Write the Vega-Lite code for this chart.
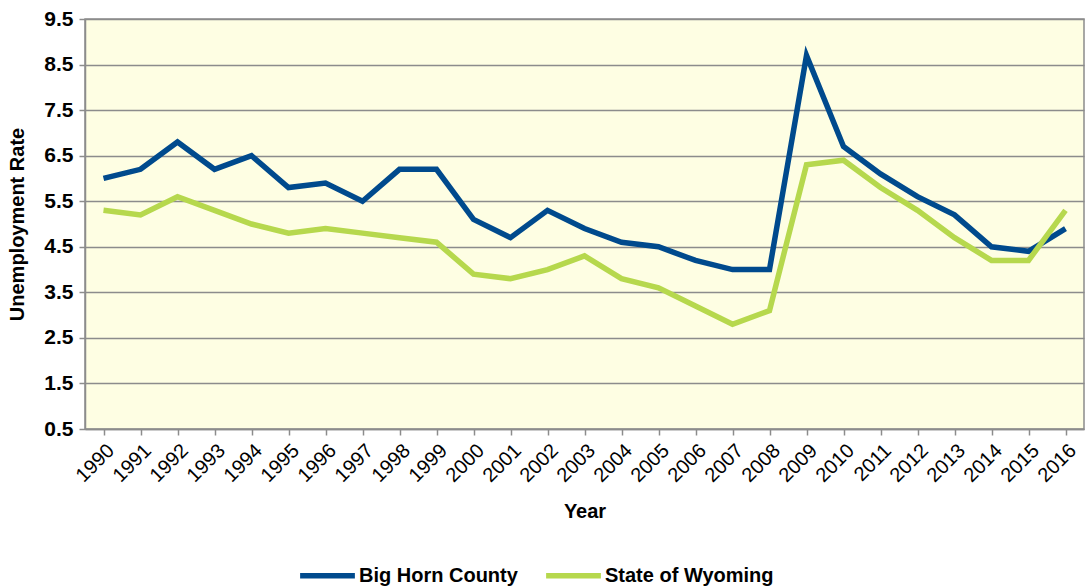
{
  "$schema": "https://vega.github.io/schema/vega-lite/v6.json",
  "autosize": {"type": "none"},
  "padding": {"left": 85, "top": 19, "right": 2, "bottom": 159},
  "width": 999,
  "height": 410,
  "background": "white",
  "config": {
    "view": {"fill": "#FEFEE3", "stroke": "#8C8C8C", "strokeWidth": 1.5},
    "font": "Liberation Sans"
  },
  "data": {
    "values": [
      {"year": "1990", "series": "Big Horn County", "rate": 6.0},
      {"year": "1991", "series": "Big Horn County", "rate": 6.2},
      {"year": "1992", "series": "Big Horn County", "rate": 6.8},
      {"year": "1993", "series": "Big Horn County", "rate": 6.2},
      {"year": "1994", "series": "Big Horn County", "rate": 6.5},
      {"year": "1995", "series": "Big Horn County", "rate": 5.8},
      {"year": "1996", "series": "Big Horn County", "rate": 5.9},
      {"year": "1997", "series": "Big Horn County", "rate": 5.5},
      {"year": "1998", "series": "Big Horn County", "rate": 6.2},
      {"year": "1999", "series": "Big Horn County", "rate": 6.2},
      {"year": "2000", "series": "Big Horn County", "rate": 5.1},
      {"year": "2001", "series": "Big Horn County", "rate": 4.7},
      {"year": "2002", "series": "Big Horn County", "rate": 5.3},
      {"year": "2003", "series": "Big Horn County", "rate": 4.9},
      {"year": "2004", "series": "Big Horn County", "rate": 4.6},
      {"year": "2005", "series": "Big Horn County", "rate": 4.5},
      {"year": "2006", "series": "Big Horn County", "rate": 4.2},
      {"year": "2007", "series": "Big Horn County", "rate": 4.0},
      {"year": "2008", "series": "Big Horn County", "rate": 4.0},
      {"year": "2009", "series": "Big Horn County", "rate": 8.7},
      {"year": "2010", "series": "Big Horn County", "rate": 6.7},
      {"year": "2011", "series": "Big Horn County", "rate": 6.1},
      {"year": "2012", "series": "Big Horn County", "rate": 5.6},
      {"year": "2013", "series": "Big Horn County", "rate": 5.2},
      {"year": "2014", "series": "Big Horn County", "rate": 4.5},
      {"year": "2015", "series": "Big Horn County", "rate": 4.4},
      {"year": "2016", "series": "Big Horn County", "rate": 4.9},
      {"year": "1990", "series": "State of Wyoming", "rate": 5.3},
      {"year": "1991", "series": "State of Wyoming", "rate": 5.2},
      {"year": "1992", "series": "State of Wyoming", "rate": 5.6},
      {"year": "1993", "series": "State of Wyoming", "rate": 5.3},
      {"year": "1994", "series": "State of Wyoming", "rate": 5.0},
      {"year": "1995", "series": "State of Wyoming", "rate": 4.8},
      {"year": "1996", "series": "State of Wyoming", "rate": 4.9},
      {"year": "1997", "series": "State of Wyoming", "rate": 4.8},
      {"year": "1998", "series": "State of Wyoming", "rate": 4.7},
      {"year": "1999", "series": "State of Wyoming", "rate": 4.6},
      {"year": "2000", "series": "State of Wyoming", "rate": 3.9},
      {"year": "2001", "series": "State of Wyoming", "rate": 3.8},
      {"year": "2002", "series": "State of Wyoming", "rate": 4.0},
      {"year": "2003", "series": "State of Wyoming", "rate": 4.3},
      {"year": "2004", "series": "State of Wyoming", "rate": 3.8},
      {"year": "2005", "series": "State of Wyoming", "rate": 3.6},
      {"year": "2006", "series": "State of Wyoming", "rate": 3.2},
      {"year": "2007", "series": "State of Wyoming", "rate": 2.8},
      {"year": "2008", "series": "State of Wyoming", "rate": 3.1},
      {"year": "2009", "series": "State of Wyoming", "rate": 6.3},
      {"year": "2010", "series": "State of Wyoming", "rate": 6.4},
      {"year": "2011", "series": "State of Wyoming", "rate": 5.8},
      {"year": "2012", "series": "State of Wyoming", "rate": 5.3},
      {"year": "2013", "series": "State of Wyoming", "rate": 4.7},
      {"year": "2014", "series": "State of Wyoming", "rate": 4.2},
      {"year": "2015", "series": "State of Wyoming", "rate": 4.2},
      {"year": "2016", "series": "State of Wyoming", "rate": 5.3}
    ]
  },
  "mark": {"type": "line", "strokeWidth": 5.5, "strokeJoin": "miter"},
  "encoding": {
    "x": {
      "field": "year", "type": "ordinal",
      "scale": {"paddingInner": 0, "paddingOuter": 0},
      "axis": {
        "title": "Year", "titleFontSize": 20, "titleFontWeight": "bold", "titleColor": "black",
        "titlePadding": 16,
        "labelAngle": -45, "labelFontSize": 20, "labelColor": "black", "labelPadding": 5,
        "bandPosition": 0, "tickColor": "#8C8C8C", "tickSize": 6, "tickWidth": 1.5,
        "domainColor": "#8C8C8C", "domainWidth": 1.5, "grid": false
      }
    },
    "y": {
      "field": "rate", "type": "quantitative",
      "scale": {"domain": [0.5, 9.5], "nice": false, "zero": false},
      "axis": {
        "title": "Unemployment Rate", "titleFontSize": 20, "titleFontWeight": "bold", "titleColor": "black",
        "titlePadding": 16,
        "values": [0.5, 1.5, 2.5, 3.5, 4.5, 5.5, 6.5, 7.5, 8.5, 9.5],
        "format": ".1f",
        "labelFontSize": 21, "labelFontWeight": "bold", "labelColor": "black", "labelPadding": 6,
        "tickColor": "#8C8C8C", "tickSize": 6, "tickWidth": 1.5,
        "domainColor": "#8C8C8C", "domainWidth": 1.5,
        "grid": true, "gridColor": "#8C8C8C", "gridWidth": 1.5, "gridOpacity": 1
      }
    },
    "color": {
      "field": "series", "type": "nominal",
      "scale": {"domain": ["Big Horn County", "State of Wyoming"], "range": ["#004A8D", "#B6D84D"]},
      "legend": {
        "title": null, "orient": "none", "direction": "horizontal",
        "legendX": 212, "legendY": 526,
        "symbolType": "stroke", "symbolSize": 3000, "symbolStrokeWidth": 5.5,
        "labelFontSize": 20, "labelFontWeight": "bold", "labelColor": "black",
        "labelLimit": 400, "labelOffset": 1, "columnPadding": 17
      }
    }
  }
}
